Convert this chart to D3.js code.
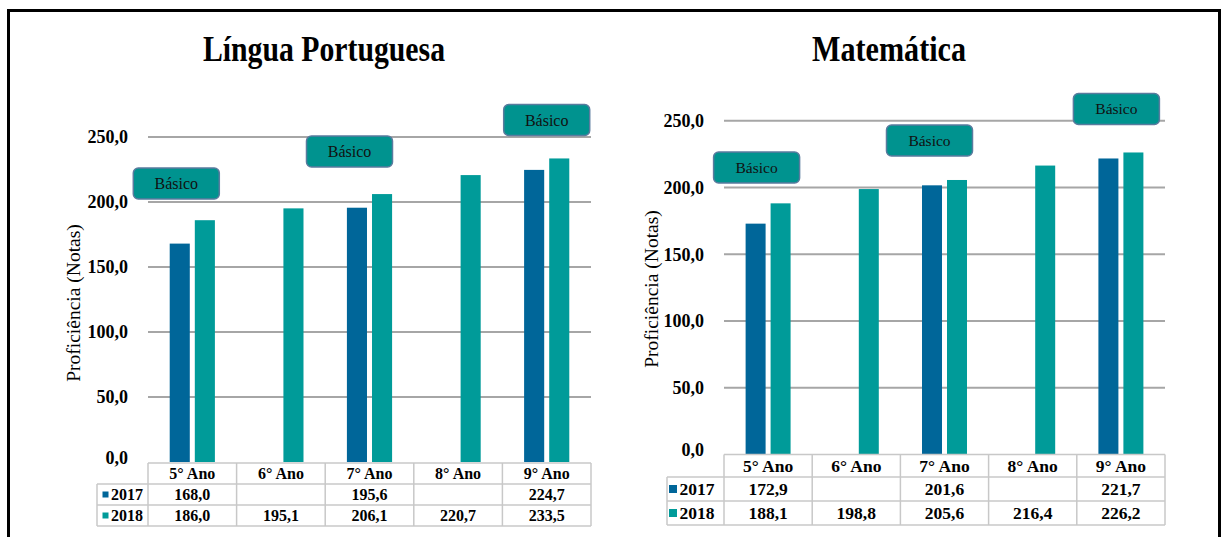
<!DOCTYPE html>
<html lang="pt">
<head>
<meta charset="UTF-8">
<title>Proficiência 2017 x 2018</title>
<script src="https://cdn.jsdelivr.net/npm/d3@7"></script>
<style>
  body { margin: 0; background: #fff; }
  text { font-family: "Liberation Serif", "Times New Roman", serif; }
</style>
</head>
<body>
<svg id="chart" width="1222" height="537"></svg>
<script>
// data
var categories = ["5° Ano", "6° Ano", "7° Ano", "8° Ano", "9° Ano"];
var series = ["2017", "2018"];
var lp2017 = [168.0, null, 195.6, null, 224.7];
var lp2018 = [186.0, 195.1, 206.1, 220.7, 233.5];
var mat2017 = [172.9, null, 201.6, null, 221.7];
var mat2018 = [188.1, 198.8, 205.6, 216.4, 226.2];
var yTicks = [0, 50, 100, 150, 200, 250];
var levelAnchors = ["5° Ano", "7° Ano", "9° Ano"];
var levelText = ["Básico", "Básico", "Básico"];

var colors = { "2017": "#006699", "2018": "#009b99" };
var fmt = function (v) { return v == null ? "" : d3.format(".1f")(v).replace(".", ","); };

var svg = d3.select("#chart");

// outer frame
svg.append("rect")
    .attr("x", 8.5).attr("y", 10.5)
    .attr("width", 1211).attr("height", 600)
    .attr("fill", "none").attr("stroke", "#000").attr("stroke-width", 3);

function drawChart(cfg) {
    var g = svg.append("g");

    var y = d3.scaleLinear().domain([0, 250]).range([cfg.y0, cfg.y250]);
    var x0 = d3.scaleBand().domain(categories)
        .range([cfg.left, cfg.right]).paddingInner(0.49).paddingOuter(0.245);
    var x1 = d3.scaleBand().domain(series).range([0, x0.bandwidth()]).paddingInner(0.2);

    // title
    g.append("text")
        .attr("x", cfg.titleX).attr("y", 61)
        .attr("text-anchor", "middle")
        .attr("font-size", 35).attr("font-weight", "bold")
        .attr("textLength", cfg.titleW).attr("lengthAdjust", "spacingAndGlyphs")
        .text(cfg.title);

    // gridlines
    g.append("g").selectAll("line")
        .data(yTicks.filter(function (d) { return d > 0; }))
        .enter().append("line")
        .attr("x1", cfg.left).attr("x2", cfg.right)
        .attr("y1", function (d) { return y(d); })
        .attr("y2", function (d) { return y(d); })
        .attr("stroke", "#a6a6a6").attr("stroke-width", 2);

    // y tick labels
    g.append("g").selectAll("text")
        .data(yTicks).enter().append("text")
        .attr("x", cfg.left - 20)
        .attr("y", function (d) { return y(d); })
        .attr("dy", d => d === 0 ? "0.1em" : "0.35em")
        .attr("text-anchor", "end")
        .attr("font-size", 18).attr("font-weight", "bold")
        .text(fmt);

    // y axis title
    g.append("text")
        .attr("transform", "translate(" + cfg.axisTitleX + "," + cfg.axisTitleY + ") rotate(-90)")
        .attr("text-anchor", "middle")
        .attr("font-size", 19.5)
        .text("Proficiência (Notas)");

    // bars
    var groups = g.append("g").selectAll("g")
        .data(categories).enter().append("g")
        .attr("transform", function (d) { return "translate(" + x0(d) + ",0)"; });

    groups.selectAll("rect")
        .data(function (d, i) {
            return series.map(function (s) { return { s: s, v: cfg.values[s][i] }; })
                .filter(function (e) { return e.v != null; });
        })
        .enter().append("rect")
        .attr("x", function (d) { return x1(d.s); })
        .attr("width", x1.bandwidth())
        .attr("y", function (d) { return y(d.v); })
        .attr("height", function (d) { return y(0) - y(d.v); })
        .attr("fill", function (d) { return colors[d.s]; });

    // level boxes
    var boxes = g.append("g").selectAll("g")
        .data(levelAnchors).enter().append("g");
    boxes.append("rect")
        .attr("x", function (d, i) { return x0(d) + x0.bandwidth() / 2 + cfg.boxDx[i] - 43; })
        .attr("y", function (d, i) { return cfg.boxTop[i]; })
        .attr("width", 86).attr("height", 31)
        .attr("rx", 5).attr("ry", 5)
        .attr("fill", "#00938f").attr("stroke", "#5a7b9e").attr("stroke-width", 1.5);
    boxes.append("text")
        .attr("x", function (d, i) { return x0(d) + x0.bandwidth() / 2 + cfg.boxDx[i]; })
        .attr("y", function (d, i) { return cfg.boxTop[i] + 15.5; })
        .attr("dy", "0.35em")
        .attr("text-anchor", "middle")
        .attr("font-size", cfg.boxFont).attr("fill", "#111")
        .text(function (d, i) { return levelText[i]; });

    // data table
    var rows = cfg.rows; // [top, headerBottom, row1Bottom, row2Bottom]
    var t = g.append("g");
    var lineColor = "#c8c8c8";
    // horizontal lines
    t.append("line").attr("x1", cfg.left).attr("x2", cfg.right)
        .attr("y1", rows[0]).attr("y2", rows[0]);
    [rows[1], rows[2], rows[3]].forEach(function (yy) {
        t.append("line").attr("x1", cfg.labelLeft).attr("x2", cfg.right)
            .attr("y1", yy).attr("y2", yy);
    });
    // vertical lines
    t.append("line").attr("x1", cfg.labelLeft).attr("x2", cfg.labelLeft)
        .attr("y1", rows[1]).attr("y2", rows[3]);
    var step = x0.step();
    d3.range(categories.length + 1).forEach(function (i) {
        var xx = cfg.left + i * step;
        t.append("line").attr("x1", xx).attr("x2", xx)
            .attr("y1", rows[0]).attr("y2", rows[3]);
    });
    t.selectAll("line").attr("stroke", lineColor).attr("stroke-width", 1.5);

    var cx = function (c) { return x0(c) + x0.bandwidth() / 2; };
    t.selectAll("text.head").data(categories).enter().append("text")
        .attr("x", cx).attr("y", (rows[0] + rows[1]) / 2).attr("dy", "0.35em")
        .attr("text-anchor", "middle").attr("font-weight", "bold")
        .attr("font-size", cfg.tableFont).text(function (d) { return d; });

    series.forEach(function (s, si) {
        var mid = (rows[si + 1] + rows[si + 2]) / 2;
        t.selectAll("text.v" + s).data(categories).enter().append("text")
            .attr("x", cx).attr("y", mid).attr("dy", "0.35em")
            .attr("text-anchor", "middle").attr("font-weight", "bold")
            .attr("font-size", cfg.tableFont)
            .text(function (d, i) { return fmt(cfg.values[s][i]); });
        t.append("rect")
            .attr("x", cfg.labelLeft + cfg.keyDx).attr("y", mid - cfg.keySize / 2)
            .attr("width", cfg.keySize).attr("height", cfg.keySize)
            .attr("fill", colors[s]);
        t.append("text")
            .attr("x", cfg.labelLeft + cfg.keyDx + cfg.keySize + 2.5).attr("y", mid).attr("dy", "0.35em")
            .attr("font-weight", "bold").attr("font-size", cfg.tableFont)
            .text(s);
    });
}

drawChart({
    title: "Língua Portuguesa", titleX: 324, titleW: 242,
    values: { "2017": lp2017, "2018": lp2018 },
    left: 148, right: 591, y0: 462, y250: 137,
    axisTitleX: 80, axisTitleY: 303,
    boxDx: [-16, -20, 0], boxTop: [168, 136, 104.5], boxFont: 16,
    rows: [463, 484, 505, 526], labelLeft: 97,
    tableFont: 16, keyDx: 5.5, keySize: 6
});

drawChart({
    title: "Matemática", titleX: 889, titleW: 154,
    values: { "2017": mat2017, "2018": mat2018 },
    left: 724, right: 1165, y0: 454.5, y250: 120.7,
    axisTitleX: 658, axisTitleY: 289,
    boxDx: [-11.5, -15, -4.5], boxTop: [152, 125, 93.5], boxFont: 15.5,
    rows: [454.5, 477, 501, 525], labelLeft: 667,
    tableFont: 17.5, keyDx: 2, keySize: 8
});
</script>
</body>
</html>
